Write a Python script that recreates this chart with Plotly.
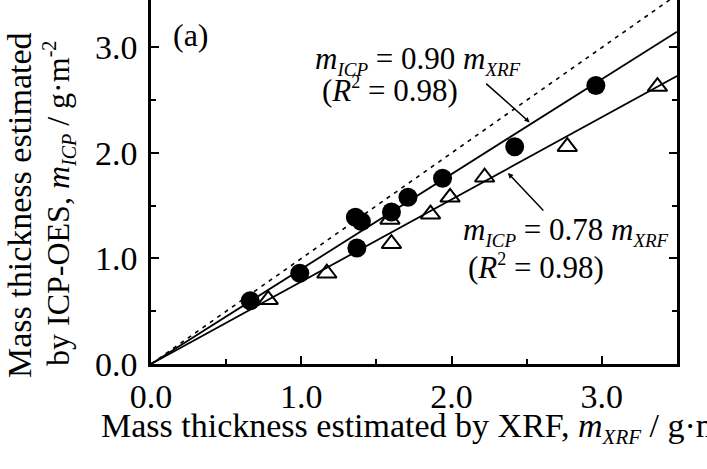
import plotly.graph_objects as go

# ---- data ----
circle_x = [0.66, 0.99, 1.37, 1.36, 1.40, 1.60, 1.71, 1.94, 2.42, 2.96]
circle_y = [0.60, 0.86, 1.10, 1.39, 1.35, 1.44, 1.58, 1.76, 2.06, 2.64]
tri_x = [0.78, 1.17, 1.60, 1.59, 1.86, 1.99, 2.22, 2.77, 3.37]
tri_y = [0.61, 0.86, 1.14, 1.37, 1.42, 1.58, 1.77, 2.06, 2.63]
line_x = [0.0, 3.5]
one_to_one_y = [0.0, 3.5]
fit_circle_y = [0.0, 3.15]   # m_ICP = 0.90 m_XRF
fit_tri_y = [0.0, 2.73]      # m_ICP = 0.78 m_XRF
tick_vals = [0, 1, 2, 3]
tick_text = ["0.0", "1.0", "2.0", "3.0"]

FONT = "Liberation Serif"
W, H = 707, 469
L, R, T, B = 151, 30, 0, 105
PW, PH = W - L - R, H - T - B


def px(x):
    return (x - L) / PW


def py(y):
    return (H - B - y) / PH


def small(s, size):
    return f"<span style='font-size:{size}px'>{s}</span>"


fig = go.Figure()
fig.add_trace(go.Scatter(x=line_x, y=one_to_one_y, mode="lines",
                         line=dict(color="black", width=1.6, dash="4px,5px"),
                         showlegend=False, hoverinfo="skip"))
fig.add_trace(go.Scatter(x=line_x, y=fit_circle_y, mode="lines",
                         line=dict(color="black", width=1.8),
                         showlegend=False, hoverinfo="skip"))
fig.add_trace(go.Scatter(x=line_x, y=fit_tri_y, mode="lines",
                         line=dict(color="black", width=1.8),
                         showlegend=False, hoverinfo="skip"))
fig.add_trace(go.Scatter(x=tri_x, y=tri_y, mode="markers",
                         marker=dict(symbol="triangle-up-open", size=17, color="black",
                                     line=dict(width=2, color="black")),
                         showlegend=False))
fig.add_trace(go.Scatter(x=circle_x, y=circle_y, mode="markers",
                         marker=dict(symbol="circle", size=19, color="black"),
                         showlegend=False))

axis_common = dict(
    showgrid=False, zeroline=False, showline=True, linecolor="black", linewidth=2.5,
    ticks="inside", ticklen=8, tickwidth=2, tickcolor="black",
    tickfont=dict(family=FONT, size=34, color="black"),
    minor=dict(ticks="inside", ticklen=5, tickwidth=1.5, tickcolor="black", dtick=0.5),
)
fig.update_xaxes(range=[0, 3.5], tickvals=tick_vals, ticktext=tick_text,
                 mirror=False, ticklabelstandoff=0, **axis_common)
fig.update_yaxes(range=[0, 3.45], tickvals=tick_vals, ticktext=tick_text,
                 mirror="ticks", ticklabelstandoff=4, **axis_common)

ann_font = dict(family=FONT, size=31, color="black")
sub_icp = "<sub>" + small("<i>ICP</i>", 19) + "</sub>"
sub_xrf = "<sub>" + small("<i>XRF</i>", 19) + "</sub>"
x_title = ("Mass thickness estimated by XRF, <i>m</i><sub>" + small("<i>XRF</i>", 21)
           + "</sub> / g·m<sup>" + small("-2", 20) + "</sup>")
annotations = [
    dict(x=px(171), y=py(35), text="(a)", xanchor="left", yanchor="middle",
         font=dict(family=FONT, size=32, color="black")),
    dict(x=px(313), y=py(61), text="<i>m</i>" + sub_icp + " = 0.90 <i>m</i>" + sub_xrf,
         xanchor="left", yanchor="middle"),
    dict(x=px(320), y=py(90), text="(<i>R</i><sup>" + small("2", 18) + "</sup> = 0.98)",
         xanchor="left", yanchor="middle"),
    dict(x=px(461), y=py(232), text="<i>m</i>" + sub_icp + " = 0.78 <i>m</i>" + sub_xrf,
         xanchor="left", yanchor="middle"),
    dict(x=px(466), y=py(267), text="(<i>R</i><sup>" + small("2", 18) + "</sup> = 0.98)",
         xanchor="left", yanchor="middle"),
    dict(x=px(99), y=py(427), text=x_title,
         xanchor="left", yanchor="middle", font=dict(family=FONT, size=34, color="black")),
    dict(x=px(19), y=py(205), text="Mass thickness estimated", textangle=-90,
         xanchor="center", yanchor="middle", font=dict(family=FONT, size=34, color="black")),
    dict(x=px(59), y=py(204),
         text="by ICP-OES, <i>m</i><sub>" + small("<i>ICP</i>", 20) + "</sub> / g·m<sup>"
              + small("-2", 20) + "</sup>",
         textangle=-90, xanchor="center", yanchor="middle",
         font=dict(family=FONT, size=32, color="black")),
]
for a in annotations:
    a.setdefault("font", ann_font)
    a.update(xref="paper", yref="paper", showarrow=False)

# pointer arrows
annotations.append(dict(x=2.52, y=2.29, ax=2.22, ay=2.67, xref="x", yref="y", axref="x", ayref="y",
                        text="", showarrow=True, arrowhead=2, arrowsize=0.7, arrowwidth=1.5,
                        arrowcolor="black"))
annotations.append(dict(x=2.375, y=1.81, ax=2.62, ay=1.44, xref="x", yref="y", axref="x", ayref="y",
                        text="", showarrow=True, arrowhead=2, arrowsize=0.7, arrowwidth=1.5,
                        arrowcolor="black"))

fig.update_layout(
    width=W, height=H,
    margin=dict(l=L, r=R, t=T, b=B),
    plot_bgcolor="white", paper_bgcolor="white",
    annotations=annotations,
    font=dict(family=FONT, color="black"),
)

fig.write_html("out.html")
